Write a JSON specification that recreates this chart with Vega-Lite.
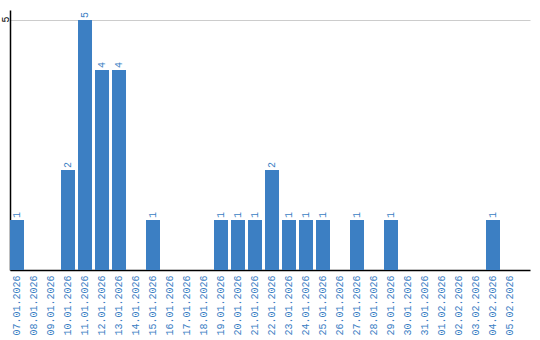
{
  "$schema": "https://vega.github.io/schema/vega-lite/v6.json",
  "autosize": "none",
  "width": 520,
  "height": 260,
  "padding": {"left": 10, "top": 10, "right": 10, "bottom": 70},
  "config": {"view": {"stroke": null}, "font": "Liberation Mono"},
  "data": {"values": [
    {"date": "07.01.2026", "count": 1},
    {"date": "08.01.2026", "count": 0},
    {"date": "09.01.2026", "count": 0},
    {"date": "10.01.2026", "count": 2},
    {"date": "11.01.2026", "count": 5},
    {"date": "12.01.2026", "count": 4},
    {"date": "13.01.2026", "count": 4},
    {"date": "14.01.2026", "count": 0},
    {"date": "15.01.2026", "count": 1},
    {"date": "16.01.2026", "count": 0},
    {"date": "17.01.2026", "count": 0},
    {"date": "18.01.2026", "count": 0},
    {"date": "19.01.2026", "count": 1},
    {"date": "20.01.2026", "count": 1},
    {"date": "21.01.2026", "count": 1},
    {"date": "22.01.2026", "count": 2},
    {"date": "23.01.2026", "count": 1},
    {"date": "24.01.2026", "count": 1},
    {"date": "25.01.2026", "count": 1},
    {"date": "26.01.2026", "count": 0},
    {"date": "27.01.2026", "count": 1},
    {"date": "28.01.2026", "count": 0},
    {"date": "29.01.2026", "count": 1},
    {"date": "30.01.2026", "count": 0},
    {"date": "31.01.2026", "count": 0},
    {"date": "01.02.2026", "count": 0},
    {"date": "02.02.2026", "count": 0},
    {"date": "03.02.2026", "count": 0},
    {"date": "04.02.2026", "count": 1},
    {"date": "05.02.2026", "count": 0}
  ]},
  "encoding": {
    "x": {
      "field": "date", "type": "ordinal", "sort": null,
      "scale": {"paddingInner": 0.176, "paddingOuter": 0.382, "align": 0},
      "axis": {
        "title": null, "labelAngle": -90, "labelAlign": "right", "labelBaseline": "middle",
        "ticks": false, "labelPadding": 5, "labelColor": "#3a7ec3", "labelFontSize": 10,
        "labelFont": "Liberation Mono", "domainColor": "#000000", "domainWidth": 1.5, "grid": false
      }
    },
    "y": {
      "field": "count", "type": "quantitative",
      "scale": {"domain": [0, 5.2], "nice": false},
      "axis": {
        "title": null, "values": [5], "ticks": false, "labelAngle": -90,
        "labelAlign": "center", "labelBaseline": "middle", "labelPadding": 5, "labelOffset": -1,
        "labelColor": "#000000", "labelFontSize": 10, "labelFont": "Liberation Mono",
        "domainColor": "#000000", "domainWidth": 1.5, "gridColor": "#cccccc", "gridWidth": 1
      }
    }
  },
  "layer": [
    {"mark": {"type": "bar", "color": "#3c7fc3"}},
    {
      "transform": [{"filter": "datum.count > 0"}],
      "mark": {"type": "text", "angle": -90, "align": "left", "baseline": "middle", "dx": 2, "color": "#3a7ec3", "fontSize": 10, "font": "Liberation Mono"},
      "encoding": {"text": {"field": "count", "type": "quantitative"}}
    }
  ]
}
